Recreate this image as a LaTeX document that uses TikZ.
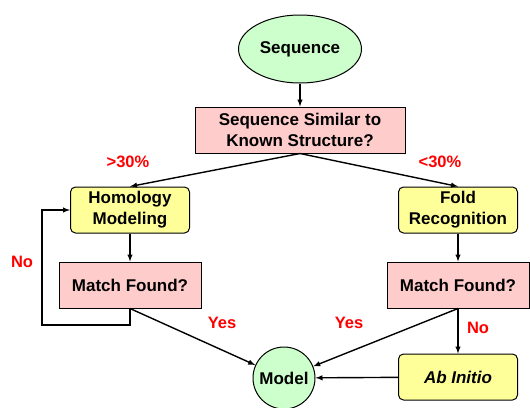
\documentclass[tikz,border=0pt]{standalone}
\usepackage{fontspec}
\setmainfont{Liberation Sans}
\usetikzlibrary{shapes.geometric}

\definecolor{paleGreen}{HTML}{CCFFCC}
\definecolor{palePink}{HTML}{FFCCCC}
\definecolor{paleYellow}{HTML}{FFFF99}

\begin{document}
\begin{tikzpicture}[x=1pt, y=-1pt, >=latex,
    every node/.style={font=\fontsize{17}{21}\selectfont\bfseries, align=center},
    test/.style={draw, line width=1pt, fill=palePink, minimum height=46pt},
    method/.style={draw, line width=1pt, fill=paleYellow, rounded corners=5pt,
                   minimum width=119pt, minimum height=46pt},
    label/.style={text=red, font=\fontsize{16.5}{20}\selectfont\bfseries},
    flow/.style={line width=1.4pt, ->}]
\useasboundingbox (0,0) rectangle (530,407);

  \node[ellipse, draw, line width=1pt, fill=paleGreen, minimum width=118pt,
        minimum height=68pt] (seq) at (300,49) {Sequence};
  \node[test, minimum width=210pt] (sim) at (300,130)
       {Sequence Similar to\\Known Structure?};

  \node[method] (hom) at (130,210) {Homology\\Modeling};
  \node[method] (fold) at (458,210) {Fold\\Recognition};

  \node[test, minimum width=142pt] (matchL) at (130,285) {Match Found?};
  \node[test, minimum width=142pt] (matchR) at (458,285) {Match Found?};

  \node[circle, draw, line width=1pt, fill=paleGreen, minimum size=62pt,
        inner sep=0pt] (model) at (284,378) {Model};
  \node[method] (abinit) at (458,377) {\itshape Ab Initio};

\begin{scope}[flow]
  \draw (seq) -- (sim);
  \draw (sim.south) -- (hom.north);
  \draw (sim.south) -- (fold.north);
  \draw (hom) -- (matchL);
  \draw (fold) -- (matchR);
  \draw (matchL.south) -- (model);
  \draw (matchR.south) -- (model);
  \draw (matchR) -- (abinit);
  \draw (abinit) -- (model);
\end{scope}

  % loop back when nothing is found
  \coordinate (back) at (42,325);
  \draw[flow] (matchL.south) |- (back) |- (hom.west);

  \node[label] (gt) at (128,162) {>30\%};
  \node[label] (lt) at (440,162) {<30\%};
  \node[label] (noL) at (22,262) {No};
  \node[label] (yesL) at (222,323) {Yes};
  \node[label] (yesR) at (349,323) {Yes};
  \node[label] (noR) at (478,328) {No};

\end{tikzpicture}
\end{document}
